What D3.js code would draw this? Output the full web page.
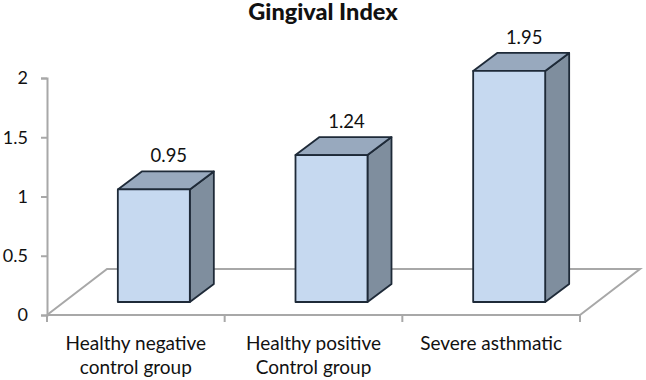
<!DOCTYPE html>
<html>
<head>
<meta charset="utf-8">
<script src="https://cdn.jsdelivr.net/npm/d3@7"></script>
<style>
  html, body { margin: 0; padding: 0; background: #fff; }
  svg { display: block; }
  text { font-family: Lato, "Open Sans", sans-serif; fill: #111; }
</style>
</head>
<body>
<div id="chart"></div>
<script>
const title = "Gingival Index";
const categories = ["Healthy negative|control group", "Healthy positive|Control group", "Severe asthmatic"];
const values = [0.95, 1.24, 1.95];
const yTicks = [0, 0.5, 1, 1.5, 2];

const width = 646, height = 380;
const svg = d3.select("#chart").append("svg").attr("width", width).attr("height", height);

const x = d3.scaleBand().domain(categories).range([47, 580]);
const y = d3.scaleLinear().domain([0, 2]).range([315, 78]);

const axisColor = "#a8a8a8";
const floorDx = 60, floorDy = -46;   // depth of the floor
const barDx = 24, barDy = -18;       // depth of each bar
const barWidth = 72;
const barLift = 13;                  // bars stand in the middle of the floor
const barShift = 18;

// title
svg.append("text").attr("x", 323).attr("y", 20).attr("text-anchor", "middle")
  .style("font-size", "23.5px").style("font-weight", "900").text(title);

// floor
svg.append("path")
  .attr("d", `M47,${y(0)}L${47 + floorDx},${y(0) + floorDy}L${580 + floorDx},${y(0) + floorDy}L580,${y(0)}`)
  .attr("fill", "none").attr("stroke", axisColor).attr("stroke-width", 2);

// y axis
const yAxis = svg.append("g").attr("transform", "translate(47,0)")
  .call(d3.axisLeft(y).tickValues(yTicks).tickSize(6).tickPadding(13).tickFormat(d3.format("")));
yAxis.selectAll("line, path").attr("stroke", axisColor).attr("stroke-width", 2);
yAxis.selectAll("text").style("font-size", "18px").attr("fill", "#111");

// x axis
const xAxis = svg.append("g").attr("transform", `translate(0,${y(0)})`);
xAxis.append("line").attr("x1", 47).attr("x2", 580).attr("stroke", axisColor).attr("stroke-width", 2);
xAxis.selectAll(".tick").data(categories.concat("end")).enter().append("line")
  .attr("class", "tick")
  .attr("x1", (d, i) => i < categories.length ? x(d) : x.range()[1])
  .attr("x2", (d, i) => i < categories.length ? x(d) : x.range()[1])
  .attr("y1", 0).attr("y2", 7)
  .attr("stroke", axisColor).attr("stroke-width", 2);

// category labels, split on |
const labels = svg.selectAll(".cat").data(categories).enter().append("text")
  .attr("class", "cat").attr("text-anchor", "middle").style("font-size", "19px");
labels.selectAll("tspan").data(d => d.split("|").map(t => ({ t, cat: d }))).enter().append("tspan")
  .attr("x", d => x(d.cat) + x.bandwidth() / 2)
  .attr("y", (d, i) => 350 + i * 24)
  .text(d => d.t);

// bars
const bars = svg.selectAll(".bar").data(values).enter().append("g").attr("class", "bar");
const barLeft = (d, i) => x(categories[i]) + x.bandwidth() / 2 + barShift - barWidth / 2;
const barTop = d => y(d) - barLift;   // the whole bar is lifted with its base
const base = y(0) - barLift;

bars.append("path") // side
  .attr("d", (d, i) => {
    const r = barLeft(d, i) + barWidth;
    return `M${r},${base}L${r + barDx},${base + barDy}L${r + barDx},${barTop(d) + barDy}L${r},${barTop(d)}Z`;
  })
  .attr("fill", "#7f8e9e");
bars.append("path") // top
  .attr("d", (d, i) => {
    const l = barLeft(d, i), r = l + barWidth;
    return `M${l},${barTop(d)}L${l + barDx},${barTop(d) + barDy}L${r + barDx},${barTop(d) + barDy}L${r},${barTop(d)}Z`;
  })
  .attr("fill", "#98a9be");
bars.append("rect") // front
  .attr("x", barLeft).attr("y", barTop)
  .attr("width", barWidth).attr("height", d => base - barTop(d))
  .attr("fill", "#c6d9f0");
bars.selectAll("path, rect").attr("stroke", "#1e2a38").attr("stroke-width", 1.8).attr("stroke-linejoin", "round");

// value labels
bars.append("text")
  .attr("x", (d, i) => barLeft(d, i) + barWidth / 2 + 15)
  .attr("y", d => barTop(d) + barDy - 9)
  .attr("text-anchor", "middle").style("font-size", "18.5px")
  .text(d => d);
</script>
</body>
</html>
